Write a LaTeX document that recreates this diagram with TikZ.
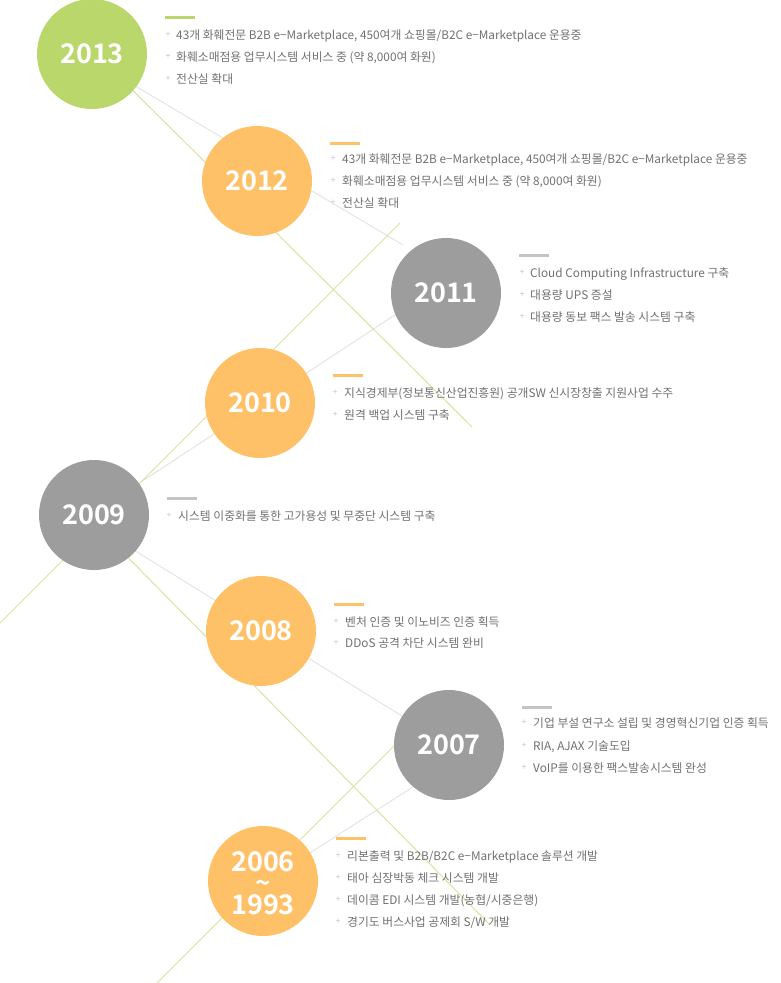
\documentclass[tikz,border=0pt]{standalone}
\usepackage{fontspec}
\setmainfont{Noto Sans CJK KR}
\newfontfamily\yearfont{Noto Sans CJK KR Bold}
\definecolor{cgreen}{HTML}{B9D76A}
\definecolor{corange}{HTML}{FFC167}
\definecolor{cgrey}{HTML}{9D9D9E}
\definecolor{bargrey}{HTML}{C4C4C4}
\definecolor{txtgrey}{HTML}{707070}
\definecolor{plusgrey}{HTML}{C8C8C8}
\definecolor{lgreen}{HTML}{D9E2A0}
\definecolor{lgrey}{HTML}{E4E4E4}
\tikzset{
  yearcircle/.style={circle, minimum size=110pt, inner sep=0pt, fill=#1, text=white, font=\yearfont\fontsize{27}{27}\selectfont},
  yeartext/.style={inner sep=0pt, text=white, font=\yearfont\fontsize{#1}{#1}\selectfont},
  glink/.style={draw=lgreen, line width=1pt},
  hlink/.style={draw=lgrey, line width=1pt},
  topbar/.style={line width=3pt, draw=#1},
  item/.style={anchor=base west, inner sep=0pt, text=txtgrey, font=\fontsize{11.8}{11.8}\selectfont},
  plusmark/.style={anchor=center, inner sep=0pt, text=plusgrey, font=\fontsize{9}{9}\selectfont}
}
\begin{document}
\begin{tikzpicture}[x=1pt,y=-1pt]
\useasboundingbox (0,0) rectangle (780,983);
% line end points
\coordinate (g1a) at (92,50);   \coordinate (g1b) at (472,427);
\coordinate (g2a) at (0,623);   \coordinate (g2b) at (400,223);
\coordinate (g3a) at (94,523);  \coordinate (g3b) at (490,925);
\coordinate (g4a) at (155,985); \coordinate (g4b) at (420,720);
\coordinate (ha1) at (100,65);  \coordinate (ha2) at (403,245);
\coordinate (hb1) at (100,509); \coordinate (hb2) at (410,305);
\coordinate (hc1) at (100,529); \coordinate (hc2) at (410,721);
\coordinate (hd1) at (430,776); \coordinate (hd2) at (263,883);
\draw[hlink] (ha1) -- (ha2);
\draw[hlink] (hb1) -- (hb2);
\draw[hlink] (hc1) -- (hc2);
\draw[hlink] (hd1) -- (hd2);
\draw[glink] (g1a) -- (g1b);
\draw[glink] (g2a) -- (g2b);
\draw[glink] (g3a) -- (g3b);
\draw[glink] (g4a) -- (g4b);
% circles
\node[yearcircle=cgreen] (y2013) at (92,54) {2013};
\node[yearcircle=corange] (y2012) at (257,181) {2012};
\node[yearcircle=cgrey] (y2011) at (446,293) {2011};
\node[yearcircle=corange] (y2010) at (260,403) {2010};
\node[yearcircle=cgrey] (y2009) at (94,515) {2009};
\node[yearcircle=corange] (y2008) at (261,631) {2008};
\node[yearcircle=cgrey] (y2007) at (449,745) {2007};
\node[yearcircle=corange] (y2006) at (263,881) {};
\node[yeartext=27] (t2006) at (263,862) {2006};
\node[yeartext=26] (ttilde) at (263,886) {\char"007E};
\node[yeartext=27] (t1993) at (263,905) {1993};
% 2013
\draw[topbar=cgreen] (165,17) -- (195,17);
\node[plusmark] (p13a) at (168,35) {+};
\node[plusmark] (p13b) at (168,57) {+};
\node[plusmark] (p13c) at (168,79) {+};
\node[item] (i13a) at (176,39) {43개 화훼전문 B2B e−Marketplace, 450여개 쇼핑몰/B2C e−Marketplace 운용중};
\node[item] (i13b) at (176,61) {화훼소매점용 업무시스템 서비스 중 (약 8,000여 화원)};
\node[item] (i13c) at (176,83) {전산실 확대};
% 2012
\draw[topbar=corange] (330,143) -- (360,143);
\node[plusmark] (p12a) at (333,159) {+};
\node[plusmark] (p12b) at (333,181) {+};
\node[plusmark] (p12c) at (333,203) {+};
\node[item] (i12a) at (342,163) {43개 화훼전문 B2B e−Marketplace, 450여개 쇼핑몰/B2C e−Marketplace 운용중};
\node[item] (i12b) at (342,185) {화훼소매점용 업무시스템 서비스 중 (약 8,000여 화원)};
\node[item] (i12c) at (342,207) {전산실 확대};
% 2011
\draw[topbar=bargrey] (519,255) -- (549,255);
\node[plusmark] (p11a) at (522,273) {+};
\node[plusmark] (p11b) at (522,295) {+};
\node[plusmark] (p11c) at (522,317) {+};
\node[item] (i11a) at (530,277) {Cloud Computing Infrastructure 구축};
\node[item] (i11b) at (530,299) {대용량 UPS 증설};
\node[item] (i11c) at (530,321) {대용량 동보 팩스 발송 시스템 구축};
% 2010
\draw[topbar=corange] (333,375) -- (363,375);
\node[plusmark] (p10a) at (335,393) {+};
\node[plusmark] (p10b) at (335,415) {+};
\node[item] (i10a) at (344,397) {지식경제부(정보통신산업진흥원) 공개SW 신시장창출 지원사업 수주};
\node[item] (i10b) at (344,419) {원격 백업 시스템 구축};
% 2009
\draw[topbar=bargrey] (167,498) -- (197,498);
\node[plusmark] (p09a) at (169,516) {+};
\node[item] (i09a) at (178,520) {시스템 이중화를 통한 고가용성 및 무중단 시스템 구축};
% 2008
\draw[topbar=corange] (334,604) -- (364,604);
\node[plusmark] (p08a) at (336,622) {+};
\node[plusmark] (p08b) at (336,643) {+};
\node[item] (i08a) at (345,626) {벤처 인증 및 이노비즈 인증 획득};
\node[item] (i08b) at (345,647) {DDoS 공격 차단 시스템 완비};
% 2007
\draw[topbar=bargrey] (522,707) -- (552,707);
\node[plusmark] (p07a) at (524,723) {+};
\node[plusmark] (p07b) at (524,746) {+};
\node[plusmark] (p07c) at (524,768) {+};
\node[item] (i07a) at (533,727) {기업 부설 연구소 설립 및 경영혁신기업 인증 획득};
\node[item] (i07b) at (533,750) {RIA, AJAX 기술도입};
\node[item] (i07c) at (533,772) {VoIP를 이용한 팩스발송시스템 완성};
% 2006
\draw[topbar=corange] (336,838) -- (366,838);
\node[plusmark] (p06a) at (338,856) {+};
\node[plusmark] (p06b) at (338,878) {+};
\node[plusmark] (p06c) at (338,900) {+};
\node[plusmark] (p06d) at (338,922) {+};
\node[item] (i06a) at (347,860) {리본출력 및 B2B/B2C e−Marketplace 솔루션 개발};
\node[item] (i06b) at (347,882) {태아 심장박동 체크 시스템 개발};
\node[item] (i06c) at (347,904) {데이콤 EDI 시스템 개발(농협/시중은행)};
\node[item] (i06d) at (347,926) {경기도 버스사업 공제회 S/W 개발};
\end{tikzpicture}
\end{document}
